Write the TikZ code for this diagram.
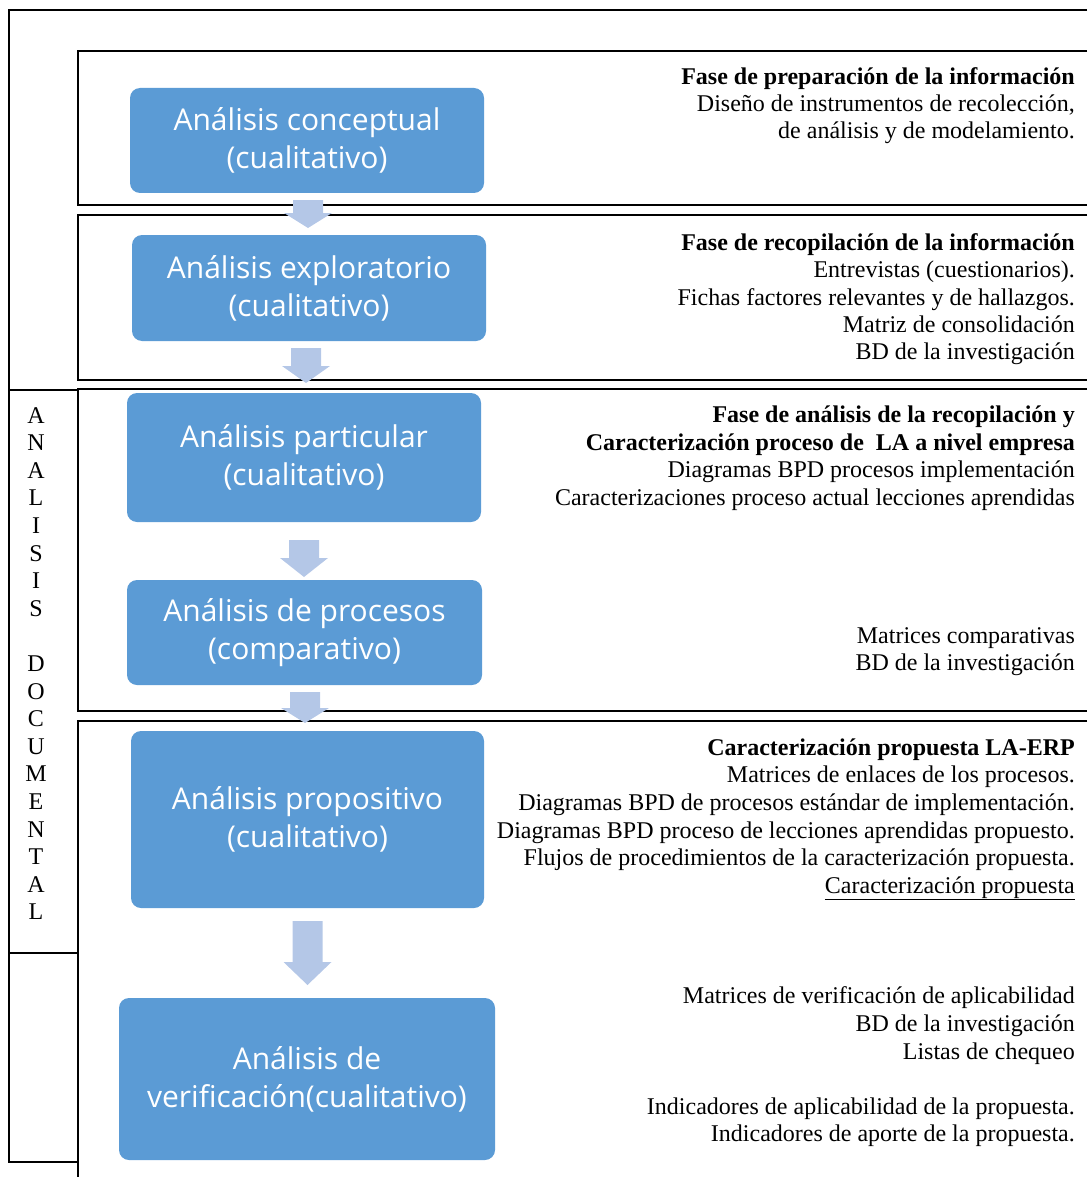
\documentclass[tikz,border=0pt]{standalone}
\usepackage{fontspec}
\setmainfont{Liberation Serif}
\newfontfamily\boxfont{Open Sans}
\definecolor{boxblue}{HTML}{5B9BD5}
\definecolor{arrowblue}{HTML}{B4C7E7}
\tikzset{
  frameline/.style={line width=1.5pt, black},
  bluebox/.style={fill=boxblue, rounded corners=10pt, text=white, align=center,
    font=\boxfont\fontsize{30}{38}\selectfont, inner sep=0pt},
  rt/.style={anchor=base east, inner sep=0pt, font=\fontsize{24}{27}\selectfont},
  rtb/.style={rt, font=\fontsize{24}{27}\selectfont\bfseries},
  vletter/.style={anchor=base, inner sep=0pt, font=\fontsize{24}{27}\selectfont},
  arrowfill/.style={fill=arrowblue, draw=none}
}
% block arrow pointing down: centre x, top of shaft, start of head, tip
\newcommand\flechabaja[4]{%
  \fill[arrowfill] (#1-15,#2) -- (#1+15,#2) -- (#1+15,#3) -- (#1+24,#3)
    -- (#1,#4) -- (#1-24,#3) -- (#1-15,#3) -- cycle;}
\begin{document}
\begin{tikzpicture}[x=1pt,y=-1pt]
\useasboundingbox (0,0) rectangle (1087,1177);

% outer frame and left column
\draw[frameline] (1087,10) -- (9,10) -- (9,1162) -- (78,1162);
\draw[frameline] (9,390) -- (78,390);
\draw[frameline] (9,953) -- (78,953);

% phase panels, open to the right
\draw[frameline] (1087,51) -- (78,51) -- (78,205) -- (1087,205);
\draw[frameline] (1087,215) -- (78,215) -- (78,380) -- (1087,380);
\draw[frameline] (1087,389) -- (78,389) -- (78,711) -- (1087,711);
\draw[frameline] (1087,721) -- (78,721) -- (78,1177);

% vertical label
\foreach \ch [count=\i from 0] in {A,N,A,L,I,S,I,S,{},D,O,C,U,M,E,N,T,A,L}
  \node[vletter] (lt\i) at (36,423+27.6*\i) {\ch};

% analysis steps
\node[bluebox, minimum width=354, minimum height=105] (b1) at (307,140.5) {Análisis conceptual\\(cualitativo)};
\node[bluebox, minimum width=354, minimum height=106] (b2) at (309,288) {Análisis exploratorio\\(cualitativo)};
\node[bluebox, minimum width=354, minimum height=129] (b3) at (304,457.5) {Análisis particular\\(cualitativo)};
\node[bluebox, minimum width=355, minimum height=105] (b4) at (304.5,632.5) {Análisis de procesos\\(comparativo)};
\node[bluebox, minimum width=353, minimum height=177] (b5) at (307.5,819.5) {Análisis propositivo\\(cualitativo)};
\node[bluebox, minimum width=376, minimum height=162] (b6) at (307,1079) {Análisis de\\verificación(cualitativo)};

% arrows between steps
\flechabaja{308}{200}{213}{228}
\flechabaja{306}{348}{366}{383}
\flechabaja{304}{540}{558}{577}
\flechabaja{305}{692}{708}{723}
\flechabaja{307.5}{921}{962}{985}

% descriptions
\node[rtb] (t1a) at (1075,85) {Fase de preparación de la información};
\node[rt]  (t1b) at (1075,112) {Diseño de instrumentos de recolección,};
\node[rt]  (t1c) at (1075,139) {de análisis y de modelamiento.};

\node[rtb] (t2a) at (1075,250) {Fase de recopilación de la información};
\node[rt]  (t2b) at (1075,277) {Entrevistas (cuestionarios).};
\node[rt]  (t2c) at (1075,305) {Fichas factores relevantes y de hallazgos.};
\node[rt]  (t2d) at (1075,332) {Matriz de consolidación};
\node[rt]  (t2e) at (1075,359) {BD de la investigación};

\node[rtb] (t3a) at (1075,422) {Fase de análisis de la recopilación y};
\node[rtb] (t3b) at (1075,450) {Caracterización proceso de\ \ LA a nivel empresa};
\node[rt]  (t3c) at (1075,477) {Diagramas BPD procesos implementación};
\node[rt]  (t3d) at (1075,505) {Caracterizaciones proceso actual lecciones aprendidas};
\node[rt]  (t3e) at (1075,643) {Matrices comparativas};
\node[rt]  (t3f) at (1075,670) {BD de la investigación};

\node[rtb] (t4a) at (1075,755) {Caracterización propuesta LA-ERP};
\node[rt]  (t4b) at (1075,782) {Matrices de enlaces de los procesos.};
\node[rt]  (t4c) at (1075,810) {Diagramas BPD de procesos estándar de implementación.};
\node[rt]  (t4d) at (1075,838) {Diagramas BPD proceso de lecciones aprendidas propuesto.};
\node[rt]  (t4e) at (1075,865) {Flujos de procedimientos de la caracterización propuesta.};
\node[rt]  (t4f) at (1075,893) {\underline{Caracterización propuesta}};
\node[rt]  (t4g) at (1075,1003) {Matrices de verificación de aplicabilidad};
\node[rt]  (t4h) at (1075,1031) {BD de la investigación};
\node[rt]  (t4i) at (1075,1059) {Listas de chequeo};
\node[rt]  (t4j) at (1075,1114) {Indicadores de aplicabilidad de la propuesta.};
\node[rt]  (t4k) at (1075,1141) {Indicadores de aporte de la propuesta.};
\end{tikzpicture}
\end{document}
